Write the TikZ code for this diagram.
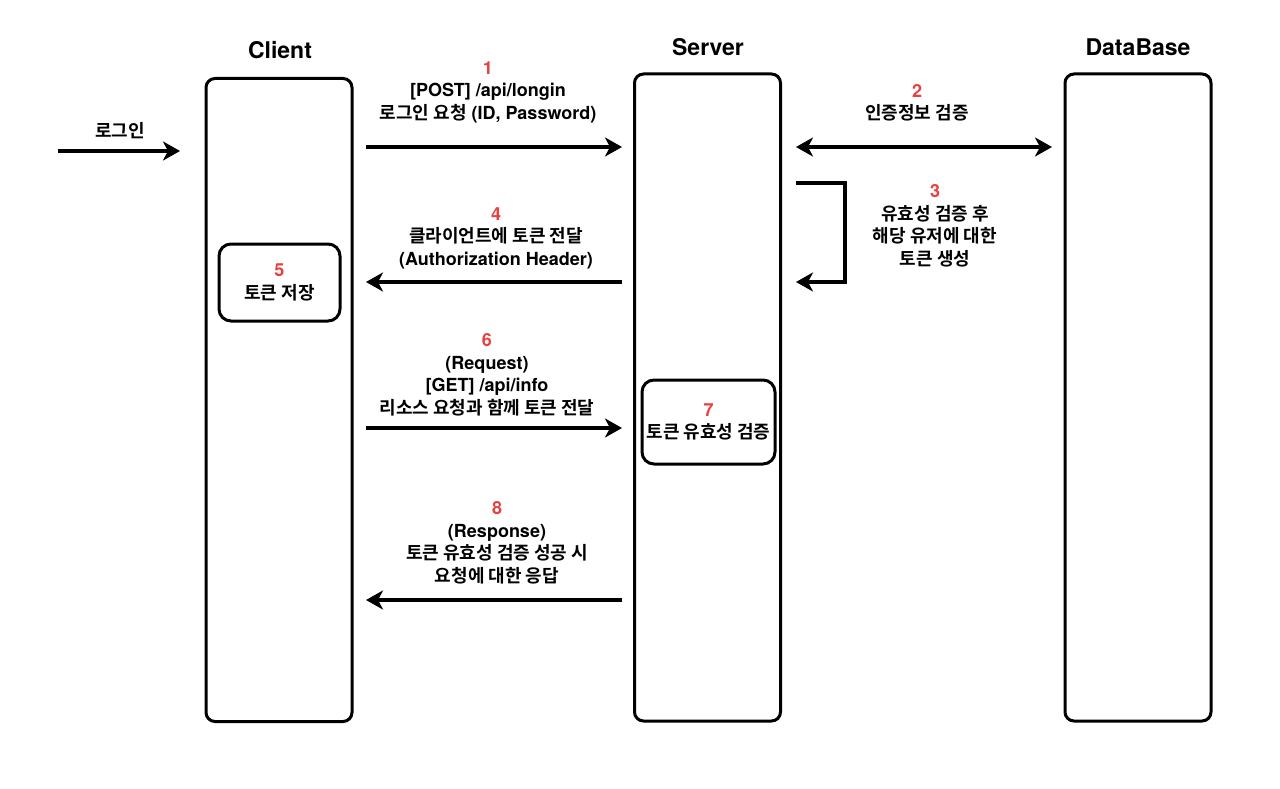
\documentclass[tikz,border=0pt]{standalone}
\usepackage{fontspec}
\setmainfont{TeX Gyre Heros}
\newfontfamily\kr{Noto Sans CJK KR}[BoldFont={Noto Sans CJK KR Bold}]
\usetikzlibrary{arrows.meta}
\definecolor{stepred}{RGB}{232,64,64}
\newcommand{\msgfont}{\fontsize{18}{22.5}\selectfont\bfseries}
\newcommand{\stepno}[1]{{\color{stepred}#1}}

\begin{document}
\begin{tikzpicture}[x=1pt,y=-1pt,>={Stealth[length=17pt,width=19pt,inset=5pt]},
  lifeline/.style={draw,line width=3pt,rounded corners=9pt,minimum width=146pt},
  actbox/.style={draw,line width=3pt,rounded corners=12pt,align=center,font=\msgfont},
  title/.style={font=\fontsize{23}{26}\selectfont\bfseries},
  msg/.style={align=center,font=\msgfont},
  arr/.style={->,line width=3.2pt}]
  \useasboundingbox (0,0) rectangle (1280,789);

  \node[title] (tclient) at (280,50) {Client};
  \node[title] (tserver) at (708,47) {Server};
  \node[title] (tdb) at (1138,47) {DataBase};

  \node[lifeline,minimum height=643pt] (client) at (279,400) {};
  \node[lifeline,minimum height=647pt] (server) at (707.5,397.5) {};
  \node[lifeline,minimum height=647pt] (db) at (1138,397.5) {};

  \node[actbox,minimum width=121pt,minimum height=77pt] (save) at (279.5,282.5) {\stepno{5}\\{\kr 토큰 저장}};
  \node[actbox,minimum width=133pt,minimum height=84pt] (check) at (708.5,422) {\stepno{7}\\{\kr 토큰 유효성 검증}};

  \coordinate (in1) at (58,151);    \coordinate (in2) at (180,151);
  \coordinate (m1a) at (366,147);   \coordinate (m1b) at (622,147);
  \coordinate (m2a) at (796,147);   \coordinate (m2b) at (1052,147);
  \coordinate (m3a) at (796,183);   \coordinate (m3k) at (845,232);
  \coordinate (m3b) at (796,282);
  \coordinate (m4a) at (622,282);   \coordinate (m4b) at (366,282);
  \coordinate (m6a) at (366,428);   \coordinate (m6b) at (622,428);
  \coordinate (m8a) at (622,600);   \coordinate (m8b) at (366,600);

  \draw[arr] (in1) -- (in2);
  \draw[arr] (m1a) -- (m1b);
  \draw[arr,<->] (m2a) -- (m2b);
  \draw[arr] (m3a) -| (m3k) |- (m3b);
  \draw[arr] (m4a) -- (m4b);
  \draw[arr] (m6a) -- (m6b);
  \draw[arr] (m8a) -- (m8b);

  \node[msg] (lin) at (120,131) {\kr 로그인};
  \node[msg] (l1) at (488,92) {\stepno{1}\\{[POST] /api/longin}\\{\kr 로그인 요청} (ID, Password)};
  \node[msg] (l2) at (917,103) {\stepno{2}\\{\kr 인증정보 검증}};
  \node[msg] (l3) at (935,226) {\stepno{3}\\{\kr 유효성 검증 후}\\{\kr 해당 유저에 대한}\\{\kr 토큰 생성}};
  \node[msg] (l4) at (496,238) {\stepno{4}\\{\kr 클라이언트에 토큰 전달}\\(Authorization Header)};
  \node[msg] (l6) at (487,375) {\stepno{6}\\(Request)\\{[GET] /api/info}\\{\kr 리소스 요청과 함께 토큰 전달}};
  \node[msg] (l8) at (497,543) {\stepno{8}\\(Response)\\{\kr 토큰 유효성 검증 성공 시}\\{\kr 요청에 대한 응답}};
\end{tikzpicture}
\end{document}
